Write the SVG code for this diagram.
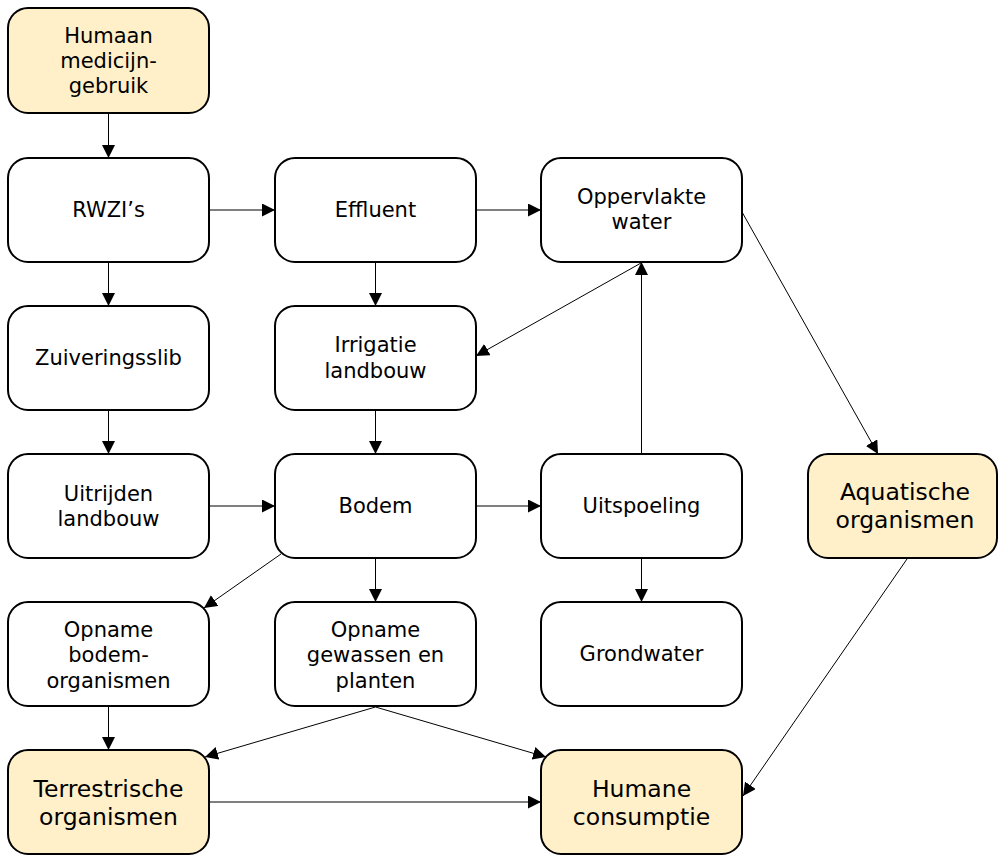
<svg xmlns="http://www.w3.org/2000/svg" width="998" height="856" viewBox="0 0 998 856">
  <style>
    .box { fill: #ffffff; stroke: #000; stroke-width: 2; }
    .hl { fill: #fff0c9; stroke: #000; stroke-width: 2; }
    .t { font-family: "DejaVu Sans", Verdana, sans-serif; font-size: 21px; fill: #000; text-anchor: middle; }
    .tl { font-family: "DejaVu Sans", Verdana, sans-serif; font-size: 23.5px; fill: #000; text-anchor: middle; }
    .edge { stroke: #000; stroke-width: 1; fill: none; marker-end: url(#arrow); }
  </style>
  <defs>
    <marker id="arrow" viewBox="0 0 13 13" refX="13" refY="6.5" markerWidth="13" markerHeight="13" markerUnits="userSpaceOnUse" orient="auto">
      <path d="M0,0 L13,6.5 L0,13 z" fill="#000"/>
    </marker>
  </defs>
  <rect width="998" height="856" fill="#ffffff"/>

  <g id="connectors">
    <line class="edge" x1="108.5" y1="113" x2="108.5" y2="158"/>
    <line class="edge" x1="209" y1="210" x2="275" y2="210"/>
    <line class="edge" x1="476" y1="210" x2="541" y2="210"/>
    <line class="edge" x1="108.5" y1="262" x2="108.5" y2="306"/>
    <line class="edge" x1="375.5" y1="262" x2="375.5" y2="306"/>
    <line class="edge" x1="641" y1="263" x2="476" y2="356"/>
    <line class="edge" x1="641.5" y1="454" x2="641.5" y2="262"/>
    <line class="edge" x1="108.5" y1="410" x2="108.5" y2="454"/>
    <line class="edge" x1="375.5" y1="410" x2="375.5" y2="454"/>
    <line class="edge" x1="209" y1="506" x2="275" y2="506"/>
    <line class="edge" x1="476" y1="506" x2="541" y2="506"/>
    <line class="edge" x1="281" y1="554" x2="204" y2="608"/>
    <line class="edge" x1="375.5" y1="558" x2="375.5" y2="602"/>
    <line class="edge" x1="641.5" y1="558" x2="641.5" y2="602"/>
    <line class="edge" x1="742" y1="212" x2="878" y2="454"/>
    <line class="edge" x1="108.5" y1="706" x2="108.5" y2="750"/>
    <line class="edge" x1="375.5" y1="707" x2="205" y2="757"/>
    <line class="edge" x1="375.5" y1="707" x2="546" y2="757"/>
    <line class="edge" x1="209" y1="802" x2="541" y2="802"/>
    <line class="edge" x1="907" y1="559" x2="743" y2="796"/>
  </g>

  <g id="humaan-medicijngebruik">
    <rect class="hl" x="8" y="8" width="201" height="105" rx="20"/>
    <text class="t" x="108.5" y="42.5">Humaan</text>
    <text class="t" x="108.5" y="67.5">medicijn-</text>
    <text class="t" x="108.5" y="92.5">gebruik</text>
  </g>

  <g id="rwzi">
    <rect class="box" x="8" y="158" width="201" height="104" rx="20"/>
    <text class="t" x="108.5" y="217">RWZI’s</text>
  </g>
  <g id="effluent">
    <rect class="box" x="275" y="158" width="201" height="104" rx="20"/>
    <text class="t" x="375.5" y="217">Effluent</text>
  </g>
  <g id="oppervlaktewater">
    <rect class="box" x="541" y="158" width="201" height="104" rx="20"/>
    <text class="t" x="641.5" y="203.5">Oppervlakte</text>
    <text class="t" x="641.5" y="229">water</text>
  </g>

  <g id="zuiveringsslib">
    <rect class="box" x="8" y="306" width="201" height="104" rx="20"/>
    <text class="t" x="108.5" y="365">Zuiveringsslib</text>
  </g>
  <g id="irrigatie-landbouw">
    <rect class="box" x="275" y="306" width="201" height="104" rx="20"/>
    <text class="t" x="375.5" y="352">Irrigatie</text>
    <text class="t" x="375.5" y="377.5">landbouw</text>
  </g>

  <g id="uitrijden-landbouw">
    <rect class="box" x="8" y="454" width="201" height="104" rx="20"/>
    <text class="t" x="108.5" y="500.5">Uitrijden</text>
    <text class="t" x="108.5" y="526">landbouw</text>
  </g>
  <g id="bodem">
    <rect class="box" x="275" y="454" width="201" height="104" rx="20"/>
    <text class="t" x="375.5" y="513">Bodem</text>
  </g>
  <g id="uitspoeling">
    <rect class="box" x="541" y="454" width="201" height="104" rx="20"/>
    <text class="t" x="641.5" y="513">Uitspoeling</text>
  </g>
  <g id="aquatische-organismen">
    <rect class="hl" x="808" y="454" width="189" height="104" rx="20"/>
    <text class="tl" x="905" y="499.5">Aquatische</text>
    <text class="tl" x="905" y="527.5">organismen</text>
  </g>

  <g id="opname-bodemorganismen">
    <rect class="box" x="8" y="602" width="201" height="104" rx="20"/>
    <text class="t" x="108.5" y="636.5">Opname</text>
    <text class="t" x="108.5" y="662">bodem-</text>
    <text class="t" x="108.5" y="687.5">organismen</text>
  </g>
  <g id="opname-gewassen-planten">
    <rect class="box" x="275" y="602" width="201" height="104" rx="20"/>
    <text class="t" x="375.5" y="636.5">Opname</text>
    <text class="t" x="375.5" y="662">gewassen en</text>
    <text class="t" x="375.5" y="687.5">planten</text>
  </g>
  <g id="grondwater">
    <rect class="box" x="541" y="602" width="201" height="104" rx="20"/>
    <text class="t" x="641.5" y="661">Grondwater</text>
  </g>

  <g id="terrestrische-organismen">
    <rect class="hl" x="8" y="750" width="201" height="104" rx="20"/>
    <text class="tl" x="108.5" y="797">Terrestrische</text>
    <text class="tl" x="108.5" y="825">organismen</text>
  </g>
  <g id="humane-consumptie">
    <rect class="hl" x="541" y="750" width="201" height="104" rx="20"/>
    <text class="tl" x="641.5" y="797">Humane</text>
    <text class="tl" x="641.5" y="825">consumptie</text>
  </g>
</svg>
